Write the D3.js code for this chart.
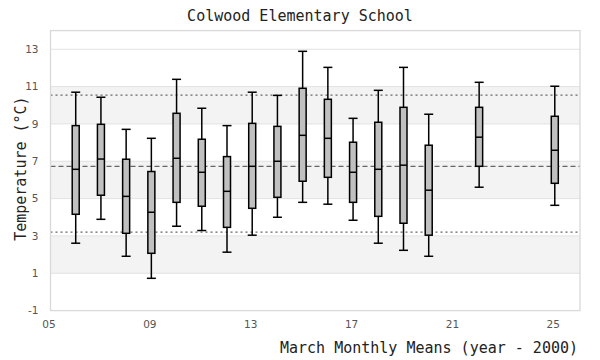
<!DOCTYPE html>
<html>
<head>
<meta charset="utf-8">
<script src="https://cdn.jsdelivr.net/npm/d3@7"></script>
<style>
html,body{margin:0;padding:0;background:#fff;}
svg{display:block;}
</style>
</head>
<body>
<script>
const years       = [6, 7, 8, 9, 10, 11, 12, 13, 14, 15, 16, 17, 18, 19, 20, 22, 25];
const whiskerHigh = [10.70, 10.43, 8.71, 8.23, 11.39, 9.84, 8.91, 10.70, 10.53, 12.89, 12.03, 9.30, 10.80, 12.03, 9.52, 11.23, 11.02];
const q3          = [8.91, 8.98, 7.11, 6.45, 9.57, 8.18, 7.25, 9.03, 8.87, 10.91, 10.32, 8.02, 9.09, 9.89, 7.86, 9.89, 9.41];
const medians     = [6.57, 7.12, 5.12, 4.27, 7.16, 6.41, 5.39, 6.73, 7.00, 8.39, 8.23, 6.41, 6.57, 6.79, 5.45, 8.29, 7.59];
const q1          = [4.16, 5.18, 3.14, 2.07, 4.80, 4.59, 3.46, 4.48, 5.07, 5.93, 6.14, 4.80, 4.05, 3.68, 3.04, 6.73, 5.82];
const whiskerLow  = [2.61, 3.89, 1.91, 0.73, 3.52, 3.29, 2.13, 3.04, 4.00, 4.80, 4.70, 3.84, 2.61, 2.23, 1.91, 5.61, 4.64];
const refMean = 6.73;
const refLimits = [10.54, 3.20];
const yTicks = [-1, 1, 3, 5, 7, 9, 11, 13];
const bands = [[1, 3], [5, 7], [9, 11]];
const xTicks = [5, 9, 13, 17, 21, 25];
const title = "Colwood Elementary School";
const xTitle = "March Monthly Means (year - 2000)";
const yTitle = "Temperature (°C)";

const W = 600, H = 360;
const m = {left: 50.5, right: 20, top: 30.6, bottom: 49.4};
const svg = d3.select("body").append("svg").attr("width", W).attr("height", H);

const x = d3.scaleLinear().domain([5, 26]).range([m.left, W - m.right]);
const y = d3.scaleLinear().domain([-1, 14]).range([H - m.bottom, m.top]);

const mono = "'DejaVu Sans Mono', monospace";
const sans = "'DejaVu Sans', sans-serif";

// bands
svg.append("g").selectAll("rect").data(bands).join("rect")
  .attr("x", x(5)).attr("width", x(26) - x(5))
  .attr("y", d => y(d[1])).attr("height", d => y(d[0]) - y(d[1]))
  .attr("fill", "#f3f3f3");

// gridlines
svg.append("g").selectAll("line").data(yTicks.filter(t => t > -1)).join("line")
  .attr("x1", x(5)).attr("x2", x(26))
  .attr("y1", d => y(d)).attr("y2", d => y(d))
  .attr("stroke", "#e2e2e2").attr("stroke-width", 1);

// reference lines
svg.append("line").attr("x1", x(5)).attr("x2", x(26))
  .attr("y1", y(refMean)).attr("y2", y(refMean))
  .attr("stroke", "#666").attr("stroke-width", 1.3).attr("stroke-dasharray", "5,3");
svg.append("g").selectAll("line").data(refLimits).join("line")
  .attr("x1", x(5)).attr("x2", x(26))
  .attr("y1", d => y(d)).attr("y2", d => y(d))
  .attr("stroke", "#666").attr("stroke-width", 1.3).attr("stroke-dasharray", "2,3");

// frame
svg.append("rect").attr("x", x(5)).attr("y", y(14))
  .attr("width", x(26) - x(5)).attr("height", y(-1) - y(14))
  .attr("fill", "none").attr("stroke", "#d9d9d9").attr("stroke-width", 1.3);

// axes
const yAxis = d3.axisLeft(y).tickValues(yTicks).tickSize(0).tickPadding(12).tickFormat(d => String(d));
const gy = svg.append("g").attr("transform", `translate(${x(5)},0)`).call(yAxis);
gy.select(".domain").remove();
gy.selectAll("text").attr("font-family", sans).attr("font-size", 10.5).attr("fill", "#555");

const xAxis = d3.axisBottom(x).tickValues(xTicks).tickSize(0).tickPadding(10).tickFormat(d => String(d).padStart(2, "0"));
const gx = svg.append("g").attr("transform", `translate(0,${y(-1)})`).call(xAxis);
gx.select(".domain").remove();
gx.selectAll("text").attr("font-family", sans).attr("font-size", 10.5).attr("fill", "#555").attr("dx", -2);

// boxes
const bw = 7, cw = 9;
const data = years.map((yr, i) => ({yr, hi: whiskerHigh[i], q3: q3[i], med: medians[i], q1: q1[i], lo: whiskerLow[i]}));
const g = svg.append("g").selectAll("g").data(data).join("g");
g.append("line").attr("x1", d => x(d.yr)).attr("x2", d => x(d.yr))
  .attr("y1", d => y(d.hi)).attr("y2", d => y(d.lo))
  .attr("stroke", "#000").attr("stroke-width", 1.5);
g.append("line").attr("x1", d => x(d.yr) - cw / 2).attr("x2", d => x(d.yr) + cw / 2)
  .attr("y1", d => y(d.hi)).attr("y2", d => y(d.hi))
  .attr("stroke", "#000").attr("stroke-width", 1.5);
g.append("line").attr("x1", d => x(d.yr) - cw / 2).attr("x2", d => x(d.yr) + cw / 2)
  .attr("y1", d => y(d.lo)).attr("y2", d => y(d.lo))
  .attr("stroke", "#000").attr("stroke-width", 1.5);
g.append("rect").attr("x", d => x(d.yr) - bw / 2).attr("width", bw)
  .attr("y", d => y(d.q3)).attr("height", d => y(d.q1) - y(d.q3))
  .attr("fill", "#c0c0c0").attr("stroke", "#000").attr("stroke-width", 1.5);
g.append("line").attr("x1", d => x(d.yr) - bw / 2).attr("x2", d => x(d.yr) + bw / 2)
  .attr("y1", d => y(d.med)).attr("y2", d => y(d.med))
  .attr("stroke", "#000").attr("stroke-width", 1.5);

// titles
svg.append("text").attr("x", 300).attr("y", 21).attr("text-anchor", "middle")
  .attr("font-family", mono).attr("font-size", 15).attr("fill", "#222").text(title);
svg.append("text").attr("x", 578).attr("y", 353).attr("text-anchor", "end")
  .attr("font-family", mono).attr("font-size", 15).attr("fill", "#222").text(xTitle);
svg.append("text").attr("transform", `translate(26,${(y(-1) + y(14)) / 2 - 2}) rotate(-90)`)
  .attr("text-anchor", "middle")
  .attr("font-family", mono).attr("font-size", 15).attr("fill", "#222").text(yTitle);
</script>
</body>
</html>
